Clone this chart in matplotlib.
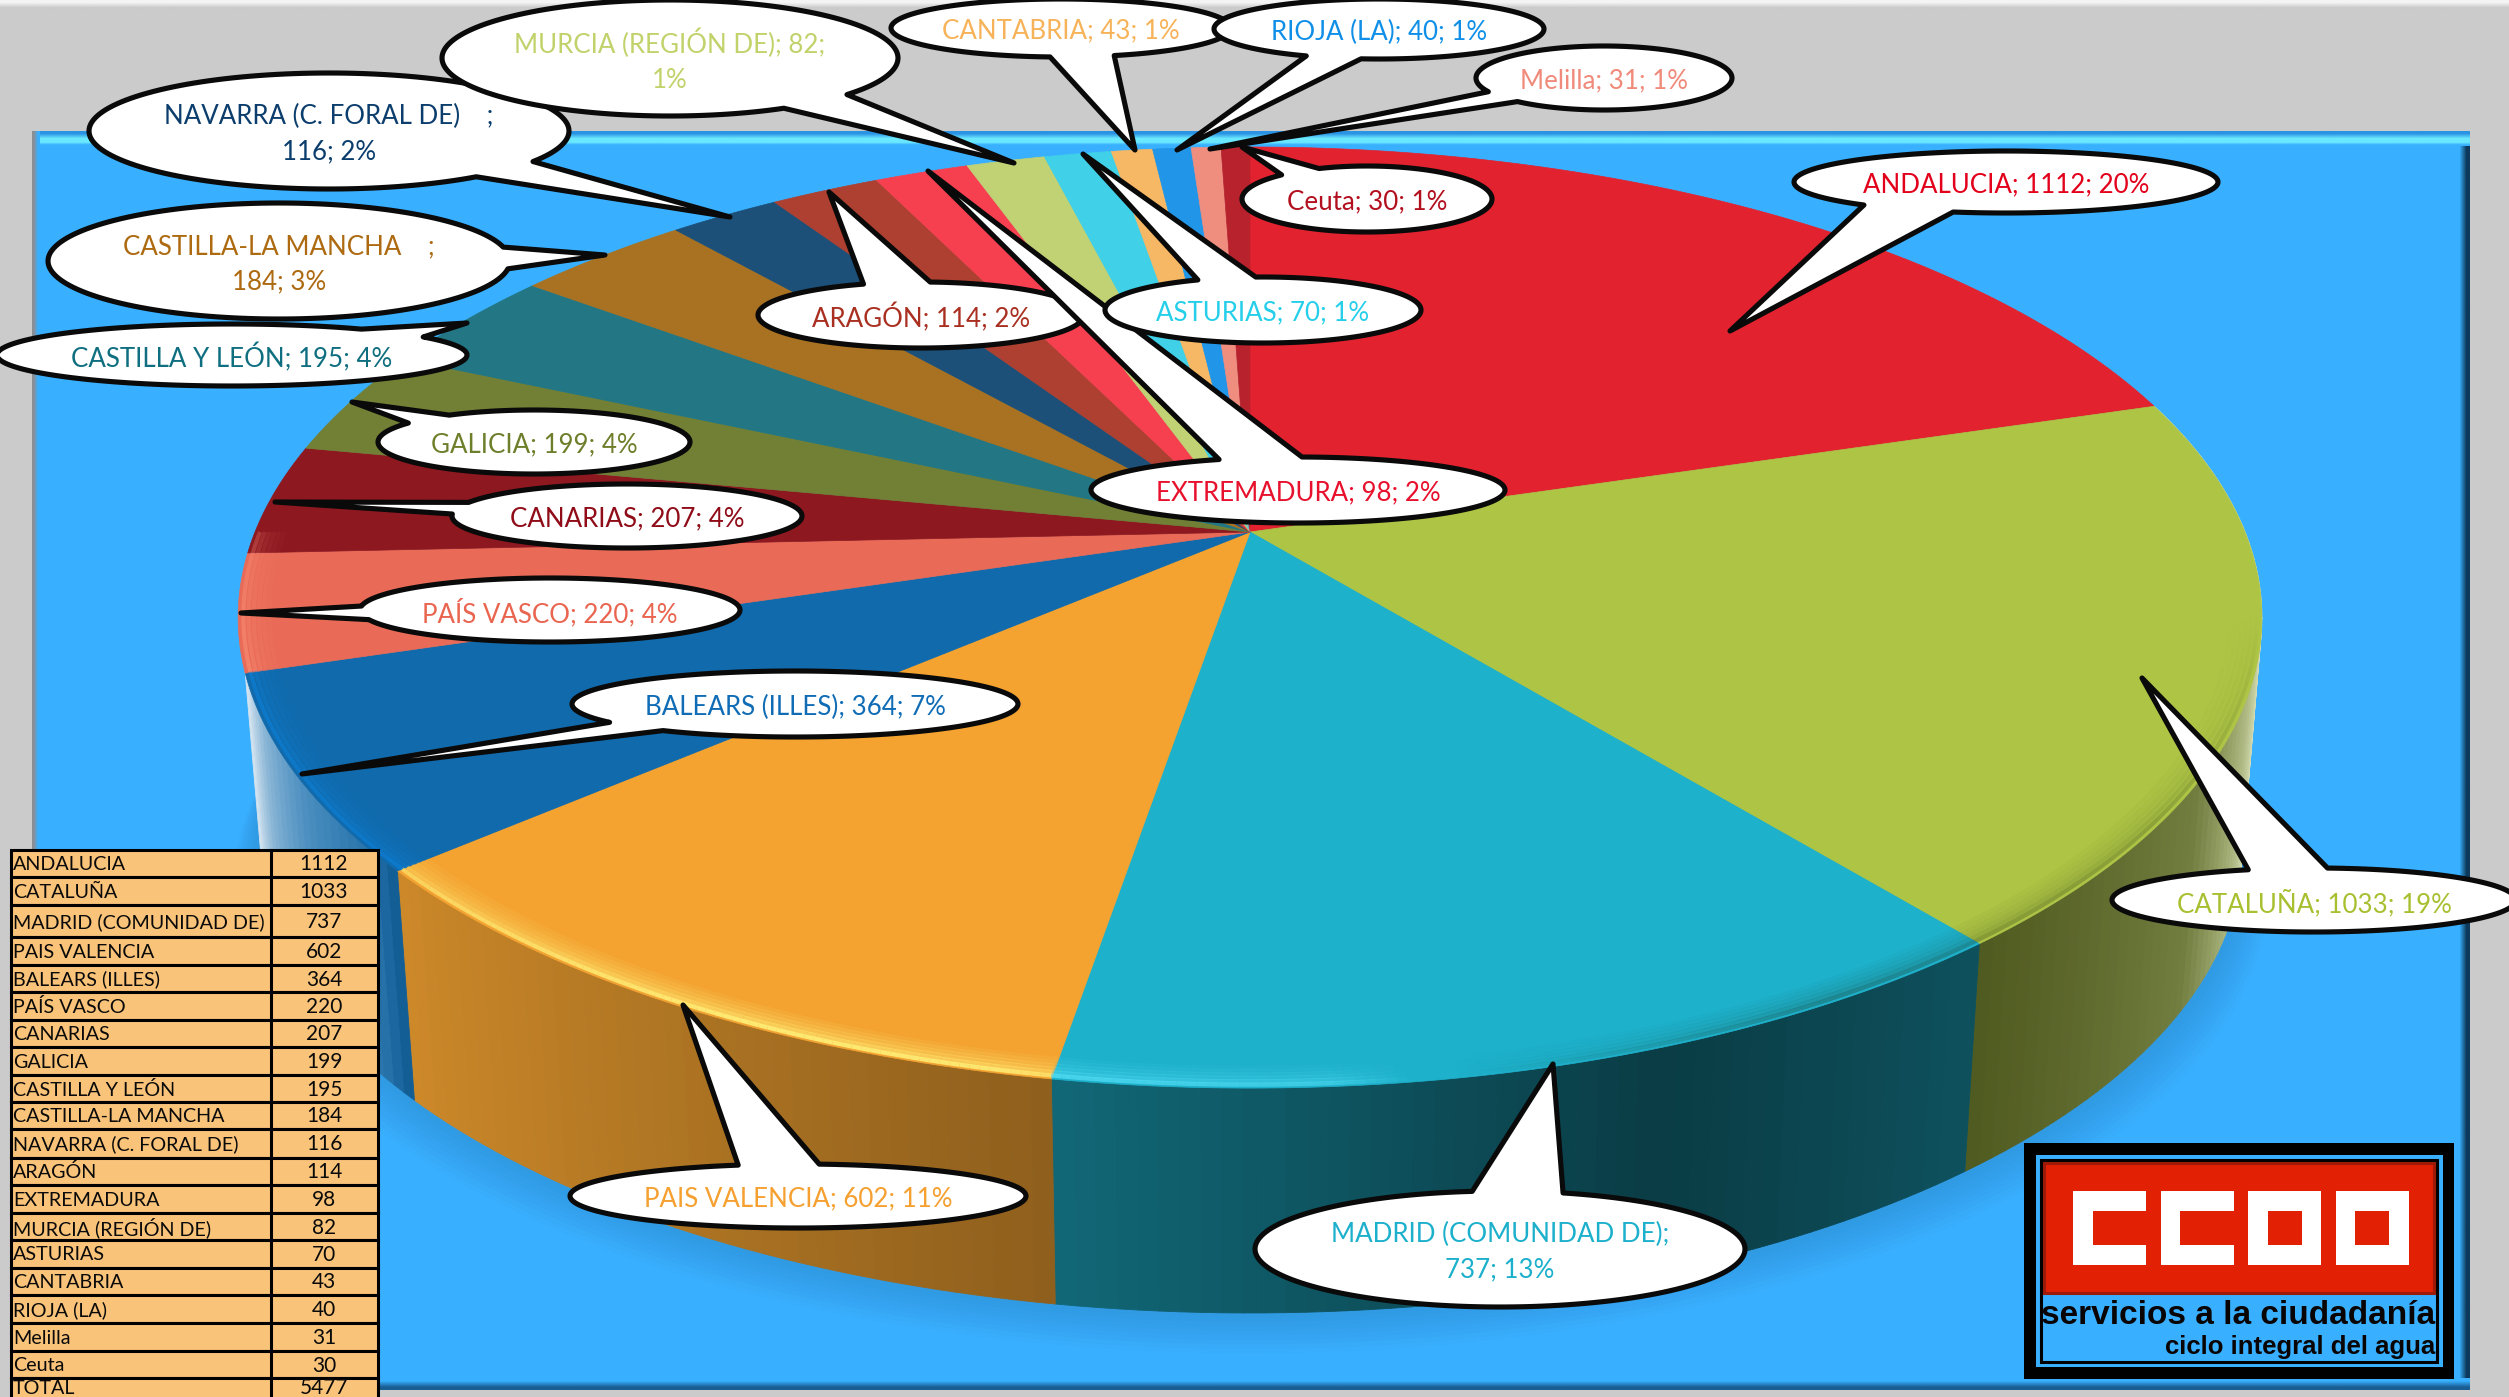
import numpy as np
import matplotlib
matplotlib.use('Agg')
import matplotlib.pyplot as plt
from matplotlib.colors import to_rgb
from matplotlib.collections import LineCollection, PolyCollection
from matplotlib.patches import Rectangle, Polygon

regions = ['ANDALUCIA', 'CATALUÑA', 'MADRID (COMUNIDAD DE)', 'PAIS VALENCIA', 'BALEARS (ILLES)',
           'PAÍS VASCO', 'CANARIAS', 'GALICIA', 'CASTILLA Y LEÓN', 'CASTILLA-LA MANCHA',
           'NAVARRA (C. FORAL DE)', 'ARAGÓN', 'EXTREMADURA', 'MURCIA (REGIÓN DE)', 'ASTURIAS',
           'CANTABRIA', 'RIOJA (LA)', 'Melilla', 'Ceuta']
values = [1112, 1033, 737, 602, 364, 220, 207, 199, 195, 184, 116, 114, 98, 82, 70, 43, 40, 31, 30]
total_label = 'TOTAL'
total_value = 5477
percents = [20, 19, 13, 11, 7, 4, 4, 4, 4, 3, 2, 2, 2, 1, 1, 1, 1, 1, 1]

slice_colors = ['#e2222f', '#adc445', '#1eb1cb', '#f4a331', '#116aab', '#e96b57', '#8e1820', '#728035',
                '#237683', '#a87222', '#1c5078', '#ad4030', '#f7404f', '#c1d274', '#40d0e8',
                '#f6b865', '#2196e8', '#ef8d7f', '#b7222d']
label_colors = ['#e3001b', '#a8c030', '#1cb0cc', '#f5a030', '#0f6cb5', '#e9654f', '#8f0c18', '#6d7f2b',
                '#0f6f80', '#ad6a10', '#0c3e6d', '#a92f20', '#e8112d', '#c2d26b', '#25cfea',
                '#f7b35a', '#0f8fe8', '#f08a7a', '#b3101f']
# where the label wraps in the original
label_breaks = {'MADRID (COMUNIDAD DE)': 0, 'MURCIA (REGIÓN DE)': 1,
                'NAVARRA (C. FORAL DE)': 0, 'CASTILLA-LA MANCHA': 0}

# callouts: ellipse cx, cy, a, b, tail tip, tail base 1, tail base 2 (pixels of the picture)
callouts = [
    (2006, 182, 212, 31, (1730, 331), (1864, 205), (1955, 211)),
    (2314, 900, 202, 32, (2142, 678), (2251, 871), (2328, 867)),
    (1500, 1249, 245, 58, (1553, 1064), (1472, 1191), (1563, 1193)),
    (798, 1196, 228, 32, (683, 1005), (736, 1164), (820, 1163)),
    (795, 704, 223, 33, (302, 774), (613, 722), (671, 729)),
    (550, 610, 190, 32, (241, 613), (360, 606), (362, 620)),
    (627, 516, 175, 32, (275, 502), (464, 502), (450, 514)),
    (534, 442, 156, 32, (352, 402), (408, 423), (449, 415)),
    (232, 355, 235, 31, (467, 323), (423, 337), (362, 329)),
    (279, 261, 231, 58, (605, 255), (505, 247), (513, 269)),
    (329, 131, 240, 58, (730, 217), (536, 162), (477, 177)),
    (921, 315, 163, 33, (829, 192), (867, 286), (930, 283)),
    (1298, 490, 207, 33, (928, 171), (1223, 461), (1302, 457)),
    (670, 58, 228, 58, (1014, 163), (849, 95), (781, 107)),
    (1263, 310, 158, 33, (1083, 154), (1198, 280), (1256, 278)),
    (1061, 28, 170, 29, (1135, 150), (1050, 57), (1117, 57)),
    (1379, 29, 165, 30, (1177, 150), (1298, 59), (1358, 64)),
    (1604, 78, 128, 32, (1210, 149), (1486, 92), (1516, 102)),
    (1367, 199, 125, 33, (1242, 147), (1282, 175), (1323, 171)),
]

table_rows = [850, 877, 905, 937, 965, 992, 1020, 1047, 1075, 1102, 1129, 1158, 1185, 1213, 1240, 1268,
              1295, 1323, 1351, 1378, 1406]

NARROW = ['Lato', 'DejaVu Sans']
BOLD = ['Liberation Sans', 'DejaVu Sans']

# perspective of the pie
cx, cy, cyb = 1250, 532, 768
Rx, Ry, k, sb = 995, 455, 0.1818, 0.98


def ring(theta, r=1.0, bottom=False):
    u = r * np.sin(theta)
    v = r * np.cos(theta)
    w = 1 + k * v
    if bottom:
        return cx + sb * Rx * u / w, cyb - sb * Ry * v / w
    return cx + Rx * u / w, cy - Ry * v / w


def band(ax, x0, x1, y0, y1, c0, c1, horizontal=False):
    cols = np.array([to_rgb(c0), to_rgb(c1)])
    arr = cols[None, :, :] if horizontal else cols[:, None, :]
    ax.imshow(arr, extent=(x0, x1, y1, y0), aspect='auto', interpolation='bilinear', zorder=1)


fig = plt.figure(figsize=(25.09, 13.97), dpi=100, facecolor='#cbcbcb')
ax = fig.add_axes([0, 0, 1, 1])
ax.axis('off')

# panel
band(ax, 0, 2509, 0, 10, '#f4f4f4', '#cbcbcb')
ax.add_patch(Rectangle((35, 131), 2435, 1259, fc='#39b0ff', ec='none', zorder=1))
band(ax, 35, 2470, 131, 141, '#2b93e4', '#6ae8ff')
band(ax, 35, 2470, 141, 146, '#6ae8ff', '#39b0ff')
band(ax, 2456, 2470, 146, 1380, '#39b0ff', '#0d3a5c', horizontal=True)
band(ax, 35, 2470, 1378, 1390, '#39b0ff', '#1a5f94')
band(ax, 32, 40, 131, 1390, '#8a8f95', '#39b0ff', horizontal=True)

# angles
total = sum(values)
edges = np.concatenate([[0], np.cumsum(values)]) / total * 2 * np.pi

# soft shadow on the panel
tt = np.linspace(0, 2 * np.pi, 400)
for i in range(10):
    bx, by = ring(tt, bottom=True)
    ax.add_patch(Polygon(np.column_stack([cx + (bx - cx) * (1 + i * 0.003), by + i * 4.5]),
                         fc='#14507f', ec='none', alpha=0.022, zorder=2))

# side wall shading: (angle in degrees, darkening, white mix)
shade_deg = [0, 75, 88, 95, 103, 110, 120, 141, 160, 189, 210, 229, 232, 240, 247, 253, 360]
shade_dark = [1, 1, 1, 0.95, 0.85, 0.7, 0.55, 0.46, 0.34, 0.58, 0.72, 0.84, 0.95, 1, 1, 1, 1]
shade_white = [0.9, 0.9, 0.9, 0.85, 0.65, 0.4, 0.12, 0, 0, 0, 0, 0, 0.1, 0.25, 0.5, 0.85, 0.85]

quads, quad_cols = [], []
for i, col in enumerate(slice_colors):
    # only these slices show their side in the picture
    if i not in (1, 2, 3, 4):
        continue
    base = np.array(to_rgb(col))
    steps = max(3, int((edges[i + 1] - edges[i]) / np.radians(1.0)))
    th = np.linspace(edges[i], edges[i + 1], steps + 1)
    tx, ty = ring(th)
    bx, by = ring(th, bottom=True)
    for j in range(steps):
        quads.append([(tx[j], ty[j]), (tx[j + 1], ty[j + 1]), (bx[j + 1], by[j + 1]), (bx[j], by[j])])
        d = np.degrees((th[j] + th[j + 1]) / 2)
        c = base * np.interp(d, shade_deg, shade_dark)
        m = np.interp(d, shade_deg, shade_white)
        quad_cols.append(c * (1 - m) + m)
ax.add_collection(PolyCollection(quads, facecolors=quad_cols, edgecolors=quad_cols, linewidths=0.6, zorder=3))

# top of the pie
for i, col in enumerate(slice_colors):
    th = np.linspace(edges[i], edges[i + 1], max(3, int((edges[i + 1] - edges[i]) / np.radians(0.5))))
    tx, ty = ring(th)
    pts = np.column_stack([np.r_[cx, tx], np.r_[cy, ty]])
    ax.add_patch(Polygon(pts, fc=col, ec=col, lw=0.5, zorder=4))

# bevel along the rim
rim_deg = np.arange(100, 270, 0.5)
rim_key = [100, 125, 150, 170, 172, 176, 188, 192, 205, 225, 232, 253, 270]
rim_alpha = [0, 0.22, 0.3, 0, 0, 0.45, 0.6, 0.85, 0.9, 0.65, 0.5, 0.5, 0.25]
for r, fac in [(0.970, 0.1), (0.975, 0.18), (0.980, 0.28), (0.985, 0.4), (0.990, 0.6), (0.995, 1.0)]:
    segs, seg_cols = [], []
    for d in rim_deg:
        x0, y0 = ring(np.radians(d), r)
        x1, y1 = ring(np.radians(d + 0.5), r)
        segs.append([(x0, y0), (x1, y1)])
        a = np.interp(d, rim_key, rim_alpha) * fac
        if d < 172:
            rgb = to_rgb('#1c2a10')
        elif d < 189.4:
            rgb = to_rgb('#5fe8ff')
        elif d < 229:
            rgb = to_rgb('#fff27a')
        elif d < 253:
            rgb = to_rgb('#0a86e6')
        else:
            rgb = to_rgb('#ff9a80')
        seg_cols.append((*rgb, a))
    ax.add_collection(LineCollection(segs, colors=seg_cols, linewidths=3.0, capstyle='butt', zorder=5))

# callouts
for i, (ex, ey, a, b, tip, b1, b2) in enumerate(callouts):
    t1 = np.arctan2((b1[1] - ey) / b, (b1[0] - ex) / a)
    t2 = np.arctan2((b2[1] - ey) / b, (b2[0] - ex) / a)
    # go round the long way from one tail base to the other
    d = (t1 - t2) % (2 * np.pi)
    if d < np.pi:
        arc = np.linspace(t1, t1 + (2 * np.pi - d), 160)
    else:
        arc = np.linspace(t1, t1 - d, 160)
    pts = [tip] + list(zip(ex + a * np.cos(arc), ey + b * np.sin(arc)))
    ax.add_patch(Polygon(pts, closed=True, fc='white', ec='#0a0a0a', lw=3.7, joinstyle='round',
                         zorder=10 + i * 0.1))
    name = regions[i]
    if name in label_breaks:
        if label_breaks[name] == 0:
            pad = '    ' if name in ('NAVARRA (C. FORAL DE)', 'CASTILLA-LA MANCHA') else ''
            txt = f'{name}{pad};\n{values[i]}; {percents[i]}%'
        else:
            txt = f'{name}; {values[i]};\n{percents[i]}%'
    else:
        txt = f'{name}; {values[i]}; {percents[i]}%'
    ax.text(ex, ey + 3, txt, color=label_colors[i], family=NARROW, fontsize=18.6, ha='center', va='center',
            ma='center', linespacing=1.5, zorder=10 + i * 0.1 + 0.01)

# table
table_labels = regions + [total_label]
table_values = values + [total_value]
for i in range(len(table_labels)):
    y0, y1 = table_rows[i], table_rows[i + 1]
    ym = min((y0 + y1) / 2 + 1, 1388)
    ax.add_patch(Rectangle((11, y0), 367, y1 - y0, fc='#f9c37a', ec='black', lw=2.2, zorder=20))
    ax.text(13, ym, table_labels[i], family=NARROW, fontsize=14.2, color='#0a0a0a',
            ha='left', va='center', zorder=21)
    ax.text(324, ym, str(table_values[i]), family=NARROW, fontsize=15, color='#0a0a0a',
            ha='center', va='center', zorder=21)
ax.plot([271, 271], [850, 1397], color='black', lw=2.2, zorder=20.5)

# logo
ax.add_patch(Rectangle((2024, 1143), 430, 236, fc='black', ec='none', zorder=20))
ax.add_patch(Rectangle((2036, 1155), 407, 212, fc='#39b0ff', ec='none', zorder=21))
ax.add_patch(Rectangle((2041, 1160), 396, 202, fc='none', ec='black', lw=2.2, zorder=21.2))
ax.add_patch(Rectangle((2044, 1163), 390, 130, fc='#e22004', ec='#9c1a06', lw=2.2, zorder=21.3))
for x0, hole_x0, hole_x1 in [(2073, 2093, 2147), (2161, 2180, 2234), (2248, 2268, 2302), (2336, 2355, 2389)]:
    ax.add_patch(Rectangle((x0, 1191), 73, 74, fc='white', ec='none', zorder=21.4))
    ax.add_patch(Rectangle((hole_x0, 1211), hole_x1 - hole_x0, 34, fc='#e22004', ec='none', zorder=21.5))
ax.text(2435, 1324, 'servicios a la ciudadanía', family=BOLD, fontweight='bold', fontsize=24, color='#0a0505',
        ha='right', va='baseline', zorder=22)
ax.text(2435, 1354, 'ciclo integral del agua', family=BOLD, fontweight='bold', fontsize=18.5, color='#0a0505',
        ha='right', va='baseline', zorder=22)

ax.set_xlim(0, 2509)
ax.set_ylim(1397, 0)
fig.savefig('out.png', dpi=100, facecolor=fig.get_facecolor())
